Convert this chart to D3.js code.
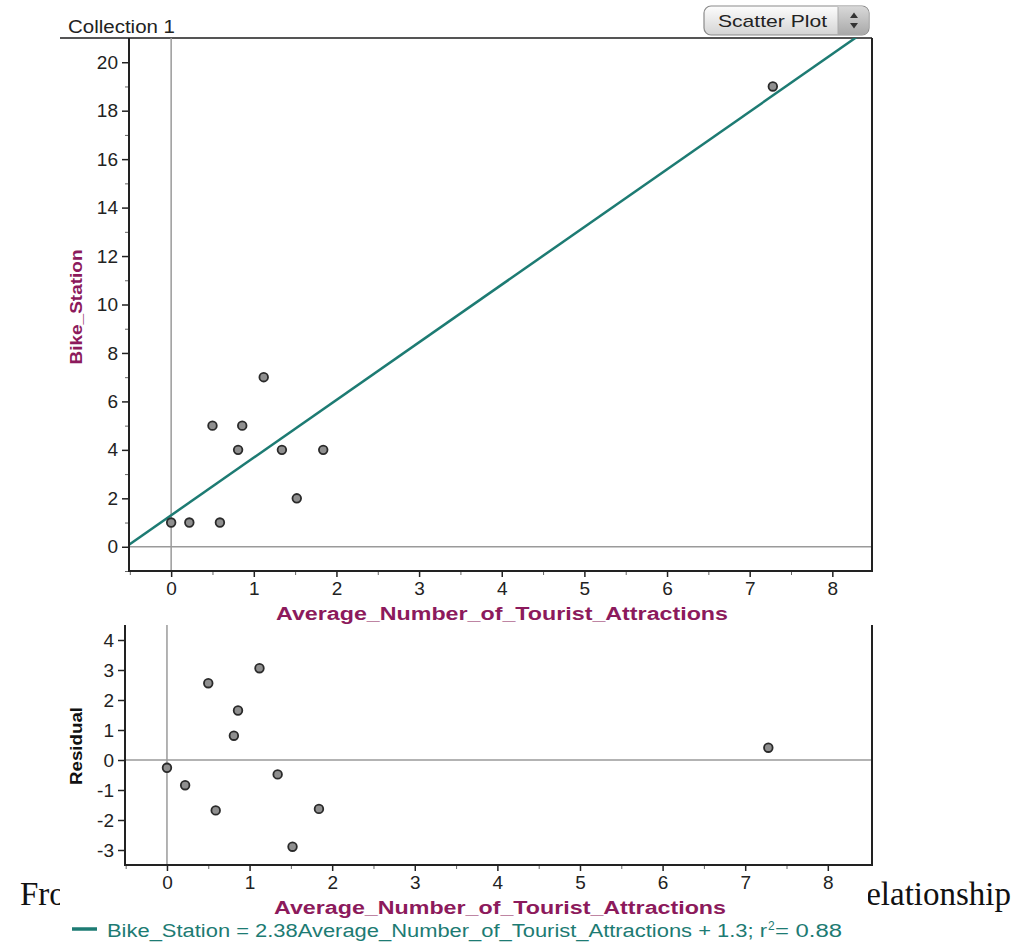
<!DOCTYPE html>
<html>
<head>
<meta charset="utf-8">
<script src="https://cdn.jsdelivr.net/npm/d3@7"></script>
<style>
  body { margin: 0; background: #fff; }
  svg { display: block; }
  text { font-family: "Liberation Sans", Arial, sans-serif; }
</style>
</head>
<body>
<svg id="chart" width="1016" height="945"></svg>
<script>
// ---------------- data ----------------
var attractions = [0, 0.22, 0.59, 0.5, 0.86, 0.81, 1.12, 1.34, 1.52, 1.84, 7.28];
var bikeStations = [1, 1, 1, 5, 5, 4, 7, 4, 2, 4, 19];
var residuals = [-0.26, -0.84, -1.68, 2.56, 1.65, 0.81, 3.06, -0.48, -2.89, -1.63, 0.41];

var fitSlope = 2.38;
var fitIntercept = 1.3;

var xTicks = [0, 1, 2, 3, 4, 5, 6, 7, 8];
var xMinorTicks = [-0.5, 0.5, 1.5, 2.5, 3.5, 4.5, 5.5, 6.5, 7.5];
var yTicks = [0, 2, 4, 6, 8, 10, 12, 14, 16, 18, 20];
var yMinorTicks = [-1, 1, 3, 5, 7, 9, 11, 13, 15, 17, 19];
var residTicks = [-3, -2, -1, 0, 1, 2, 3, 4];

var xLabel = "Average_Number_of_Tourist_Attractions";
var yLabel = "Bike_Station";
var residLabel = "Residual";
var legendText = "Bike_Station = 2.38Average_Number_of_Tourist_Attractions + 1.3; r";
var legendTail = " = 0.88";

var svg = d3.select("#chart");

var AXIS = "#222";
var ZERO = "#9a9a9a";
var MAROON = "#8c1a5c";
var TEAL = "#1d7b73";

// ---------------- background page text (mostly hidden by the chart) ----------------
svg.append("text")
    .attr("x", 20).attr("y", 905)
    .style("font-family", "'Liberation Serif', 'Times New Roman', serif")
    .style("font-size", "33px").style("fill", "#111")
    .text("From");
svg.append("text")
    .attr("x", 1011).attr("y", 905)
    .attr("text-anchor", "end")
    .style("font-family", "'Liberation Serif', 'Times New Roman', serif")
    .style("font-size", "33px").style("fill", "#111")
    .text("relationship");

// white image area of the chart
svg.append("rect")
    .attr("x", 60).attr("y", 0)
    .attr("width", 808).attr("height", 945)
    .style("fill", "#fff");

// ---------------- scales ----------------
var mainBox = { left: 129, right: 872, top: 38, bottom: 571 };
var resBox = { left: 125, right: 872, top: 625, bottom: 865 };

var xScale = d3.scaleLinear().domain([-0.51, 8.48]).range([mainBox.left, mainBox.right]);
var yScale = d3.scaleLinear().domain([-1, 21]).range([mainBox.bottom, mainBox.top]);
var rxScale = d3.scaleLinear().domain([-0.508, 8.535]).range([resBox.left, resBox.right]);
var ryScale = d3.scaleLinear().domain([-3.5, 4.5]).range([resBox.bottom, resBox.top]);

// ---------------- header ----------------
svg.append("text")
    .attr("x", 68).attr("y", 33)
    .attr("textLength", 107).attr("lengthAdjust", "spacingAndGlyphs")
    .style("font-size", "18px").style("fill", "#222")
    .text("Collection 1");

svg.append("line")
    .attr("x1", 60).attr("x2", mainBox.right)
    .attr("y1", mainBox.top).attr("y2", mainBox.top)
    .style("stroke", "#555").style("stroke-width", 2);

// Scatter Plot popup button
var defs = svg.append("defs");
var g1 = defs.append("linearGradient").attr("id", "btnGrad")
    .attr("x1", 0).attr("y1", 0).attr("x2", 0).attr("y2", 1);
g1.append("stop").attr("offset", "0%").attr("stop-color", "#fdfdfd");
g1.append("stop").attr("offset", "100%").attr("stop-color", "#d4d4d4");
var g2 = defs.append("linearGradient").attr("id", "btnGrad2")
    .attr("x1", 0).attr("y1", 0).attr("x2", 0).attr("y2", 1);
g2.append("stop").attr("offset", "0%").attr("stop-color", "#d8d8d8");
g2.append("stop").attr("offset", "100%").attr("stop-color", "#a8a8a8");

var btn = svg.append("g");
btn.append("rect")
    .attr("x", 704).attr("y", 6).attr("width", 165).attr("height", 29).attr("rx", 7)
    .style("fill", "url(#btnGrad)").style("stroke", "#8a8a8a").style("stroke-width", 1.2);
btn.append("path")
    .attr("d", "M838,6.6 H862 a6.5,6.5 0 0 1 6.5,6.5 V28.5 a6.5,6.5 0 0 1 -6.5,6.5 H838 Z")
    .style("fill", "url(#btnGrad2)");
btn.append("line")
    .attr("x1", 838).attr("x2", 838).attr("y1", 7).attr("y2", 34)
    .style("stroke", "#aaa");
btn.append("path").attr("d", "M850,18 L854,12.5 L858,18 Z").style("fill", "#333");
btn.append("path").attr("d", "M850,23 L854,28.5 L858,23 Z").style("fill", "#333");
btn.append("text")
    .attr("x", 718).attr("y", 27)
    .attr("textLength", 109).attr("lengthAdjust", "spacingAndGlyphs")
    .style("font-size", "17px").style("fill", "#222")
    .text("Scatter Plot");

// ---------------- clip paths ----------------
defs.append("clipPath").attr("id", "clipTop")
  .append("rect")
    .attr("x", mainBox.left).attr("y", mainBox.top)
    .attr("width", mainBox.right - mainBox.left).attr("height", mainBox.bottom - mainBox.top);

// ---------------- shared axis styling ----------------
function styleAxis(g) {
  g.select(".domain").remove();
  g.selectAll(".tick line").style("stroke", AXIS).style("stroke-width", 1.5);
  g.selectAll(".tick text")
      .style("font-size", "19px").style("fill", "#222")
      .style("font-family", "'Liberation Sans', Arial, sans-serif");
}
function styleMinor(g) {
  styleAxis(g);
  g.selectAll(".tick line").style("stroke", "#666").style("stroke-width", 1);
}

// ---------------- top scatter plot ----------------
var topG = svg.append("g");

// zero lines
topG.append("line")
    .attr("x1", xScale(0)).attr("x2", xScale(0))
    .attr("y1", mainBox.top).attr("y2", mainBox.bottom)
    .style("stroke", ZERO).style("stroke-width", 1.5);
topG.append("line")
    .attr("x1", mainBox.left).attr("x2", mainBox.right)
    .attr("y1", yScale(0)).attr("y2", yScale(0))
    .style("stroke", ZERO).style("stroke-width", 1.5);

// regression line
var lineX = xScale.domain();
topG.append("path")
    .datum(lineX)
    .attr("clip-path", "url(#clipTop)")
    .attr("d", d3.line()
        .x(function(d) { return xScale(d); })
        .y(function(d) { return yScale(fitSlope * d + fitIntercept); }))
    .style("fill", "none").style("stroke", TEAL).style("stroke-width", 2.5);

// points
topG.selectAll("circle.pt")
    .data(attractions)
  .enter().append("circle")
    .attr("class", "pt")
    .attr("cx", function(d) { return xScale(d); })
    .attr("cy", function(d, i) { return yScale(bikeStations[i]); })
    .attr("r", 4.3)
    .style("fill", "#8f8f8f").style("stroke", "#2a2a2a").style("stroke-width", 1.8);

// axes
var xAxisG = topG.append("g")
    .attr("transform", "translate(0," + mainBox.bottom + ")")
    .call(d3.axisBottom(xScale).tickValues(xTicks).tickSize(6).tickPadding(5).tickFormat(d3.format("d")));
styleAxis(xAxisG);
topG.append("g")
    .attr("transform", "translate(0," + mainBox.bottom + ")")
    .call(d3.axisBottom(xScale).tickValues(xMinorTicks).tickSize(4).tickFormat(""))
    .call(styleMinor);

var yAxisG = topG.append("g")
    .attr("transform", "translate(" + mainBox.left + ",0)")
    .call(d3.axisLeft(yScale).tickValues(yTicks).tickSize(7).tickPadding(4).tickFormat(d3.format("d")));
styleAxis(yAxisG);
topG.append("g")
    .attr("transform", "translate(" + mainBox.left + ",0)")
    .call(d3.axisLeft(yScale).tickValues(yMinorTicks).tickSize(4).tickFormat(""))
    .call(styleMinor);

// frame lines
topG.append("line")
    .attr("x1", mainBox.left).attr("x2", mainBox.left).attr("y1", mainBox.top).attr("y2", mainBox.bottom + 1)
    .style("stroke", AXIS).style("stroke-width", 2);
topG.append("line")
    .attr("x1", mainBox.left).attr("x2", mainBox.right + 1).attr("y1", mainBox.bottom).attr("y2", mainBox.bottom)
    .style("stroke", AXIS).style("stroke-width", 2);
topG.append("line")
    .attr("x1", mainBox.right).attr("x2", mainBox.right).attr("y1", mainBox.top).attr("y2", mainBox.bottom)
    .style("stroke", AXIS).style("stroke-width", 2);

// axis titles
topG.append("text")
    .attr("x", 502).attr("y", 620)
    .attr("text-anchor", "middle")
    .attr("textLength", 452).attr("lengthAdjust", "spacingAndGlyphs")
    .style("font-size", "18px").style("font-weight", "bold").style("fill", MAROON)
    .text(xLabel);

topG.append("text")
    .attr("transform", "translate(82,307) rotate(-90)")
    .attr("text-anchor", "middle")
    .attr("textLength", 115).attr("lengthAdjust", "spacingAndGlyphs")
    .style("font-size", "17px").style("font-weight", "bold").style("fill", MAROON)
    .text(yLabel);

// ---------------- residual plot ----------------
var resG = svg.append("g");

resG.append("line")
    .attr("x1", rxScale(0)).attr("x2", rxScale(0))
    .attr("y1", resBox.top).attr("y2", resBox.bottom)
    .style("stroke", ZERO).style("stroke-width", 1.5);
resG.append("line")
    .attr("x1", resBox.left).attr("x2", resBox.right)
    .attr("y1", ryScale(0)).attr("y2", ryScale(0))
    .style("stroke", ZERO).style("stroke-width", 1.5);

resG.selectAll("circle.res")
    .data(attractions)
  .enter().append("circle")
    .attr("class", "res")
    .attr("cx", function(d) { return rxScale(d); })
    .attr("cy", function(d, i) { return ryScale(residuals[i]); })
    .attr("r", 4.3)
    .style("fill", "#8f8f8f").style("stroke", "#2a2a2a").style("stroke-width", 1.8);

var rxAxisG = resG.append("g")
    .attr("transform", "translate(0," + resBox.bottom + ")")
    .call(d3.axisBottom(rxScale).tickValues(xTicks).tickSize(6).tickPadding(5).tickFormat(d3.format("d")));
styleAxis(rxAxisG);
resG.append("g")
    .attr("transform", "translate(0," + resBox.bottom + ")")
    .call(d3.axisBottom(rxScale).tickValues(xMinorTicks).tickSize(4).tickFormat(""))
    .call(styleMinor);

var ryAxisG = resG.append("g")
    .attr("transform", "translate(" + resBox.left + ",0)")
    .call(d3.axisLeft(ryScale).tickValues(residTicks).tickSize(7).tickPadding(4)
        .tickFormat(function(d) { return d < 0 ? "-" + Math.abs(d) : d; }));
styleAxis(ryAxisG);

resG.append("line")
    .attr("x1", resBox.left).attr("x2", resBox.left).attr("y1", resBox.top).attr("y2", resBox.bottom + 1)
    .style("stroke", AXIS).style("stroke-width", 2);
resG.append("line")
    .attr("x1", resBox.left).attr("x2", resBox.right + 1).attr("y1", resBox.bottom).attr("y2", resBox.bottom)
    .style("stroke", AXIS).style("stroke-width", 2);
resG.append("line")
    .attr("x1", resBox.right).attr("x2", resBox.right).attr("y1", resBox.top).attr("y2", resBox.bottom)
    .style("stroke", AXIS).style("stroke-width", 2);

resG.append("text")
    .attr("x", 500).attr("y", 914)
    .attr("text-anchor", "middle")
    .attr("textLength", 452).attr("lengthAdjust", "spacingAndGlyphs")
    .style("font-size", "18px").style("font-weight", "bold").style("fill", MAROON)
    .text(xLabel);

resG.append("text")
    .attr("transform", "translate(82,746) rotate(-90)")
    .attr("text-anchor", "middle")
    .attr("textLength", 78).attr("lengthAdjust", "spacingAndGlyphs")
    .style("font-size", "17px").style("font-weight", "bold").style("fill", "#111")
    .text(residLabel);

// ---------------- legend / equation ----------------
svg.append("line")
    .attr("x1", 72).attr("x2", 97).attr("y1", 929).attr("y2", 929)
    .style("stroke", TEAL).style("stroke-width", 3.5);

var eqFont = "'Liberation Sans Narrow', 'Liberation Sans', Arial, sans-serif";
svg.append("text")
    .attr("x", 107).attr("y", 937)
    .attr("textLength", 660).attr("lengthAdjust", "spacingAndGlyphs")
    .style("font-family", eqFont)
    .style("font-size", "18px").style("fill", TEAL)
    .text(legendText);
svg.append("text")
    .attr("x", 768).attr("y", 930)
    .style("font-family", eqFont)
    .style("font-size", "12px").style("fill", TEAL)
    .text("2");
svg.append("text")
    .attr("x", 775).attr("y", 937)
    .attr("textLength", 67).attr("lengthAdjust", "spacingAndGlyphs")
    .style("font-family", eqFont)
    .style("font-size", "18px").style("fill", TEAL)
    .text(legendTail);
</script>
</body>
</html>
